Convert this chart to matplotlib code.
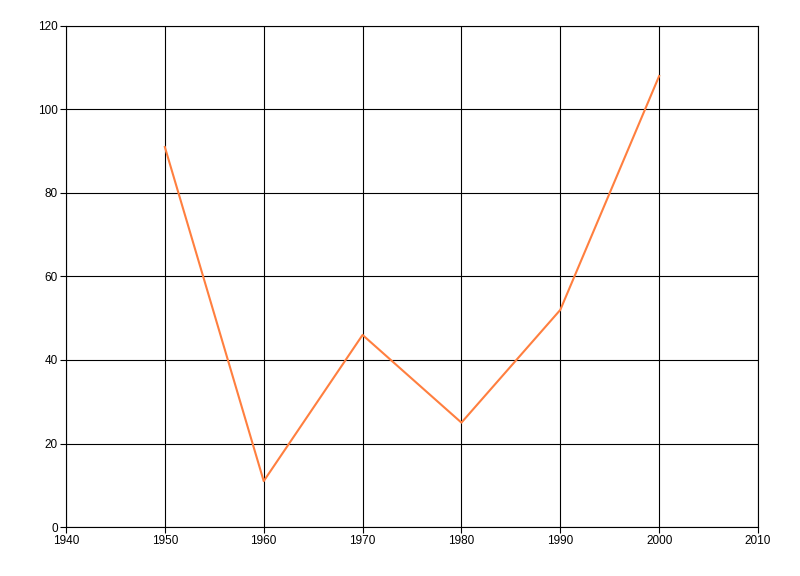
import matplotlib
matplotlib.use("Agg")
import matplotlib.pyplot as plt

# data
years = [1950, 1960, 1970, 1980, 1990, 2000]
values = [91, 11, 46, 25, 52, 108]

x_ticks = [1940, 1950, 1960, 1970, 1980, 1990, 2000, 2010]
y_ticks = [0, 20, 40, 60, 80, 100, 120]

plt.rcParams['font.family'] = ['Liberation Sans', 'DejaVu Sans']

fig = plt.figure(figsize=(8, 5.76), dpi=100)
ax = fig.add_axes([0.0825, 0.085, 0.865, 0.87])

ax.plot(years, values, color='#FF7F3F', linewidth=1.5)

ax.set_xlim(1940, 2010)
ax.set_ylim(0, 120)
ax.set_xticks(x_ticks)
ax.set_yticks(y_ticks)
ax.grid(True, color='black', linewidth=0.8)
ax.set_axisbelow(True)
ax.tick_params(length=4, width=0.8, labelsize=8.5, pad=2)

for s in ax.spines.values():
	s.set_linewidth(0.8)

fig.savefig("out.png", dpi=100)
